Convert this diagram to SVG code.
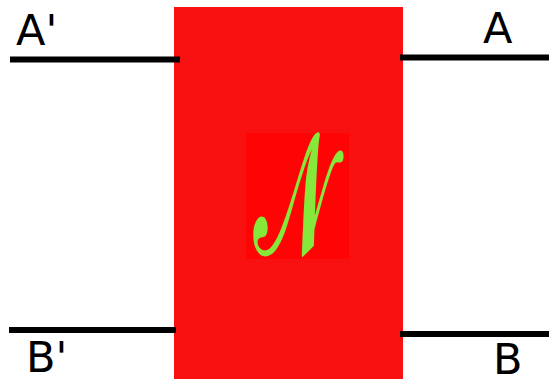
<svg xmlns="http://www.w3.org/2000/svg" width="549" height="379" viewBox="0 0 549 379">
<style>
.wire{stroke:#000;stroke-width:6;fill:none}
.lbl{font-family:"DejaVu Sans","Liberation Sans",sans-serif;font-size:43px;fill:#000}
</style>
<rect width="549" height="379" fill="#fff"/>
<g id="box">
<rect x="174" y="7" width="229" height="372" fill="#f91111"/>
<rect x="246" y="133" width="103" height="126" fill="#ff0404"/>
<text transform="translate(292.5,253) scale(0.48,1)" x="0" y="0" text-anchor="middle" font-family="DejaVu Serif,serif" font-size="170" fill="#86e83a" stroke="#86e83a" stroke-width="3" stroke-linejoin="round">𝒩</text>
</g>
<g id="connectors">
<line class="wire" x1="10" y1="59.5" x2="180" y2="59.5"/>
<line class="wire" x1="400" y1="57.5" x2="549" y2="57.5"/>
<line class="wire" x1="9" y1="330" x2="176" y2="330"/>
<line class="wire" x1="400" y1="334" x2="549" y2="334"/>
</g>
<g id="labels">
<text class="lbl" x="16" y="45">A'</text>
<text class="lbl" x="483" y="43">A</text>
<text class="lbl" x="26" y="372">B'</text>
<text class="lbl" x="493" y="374">B</text>
</g>
</svg>
